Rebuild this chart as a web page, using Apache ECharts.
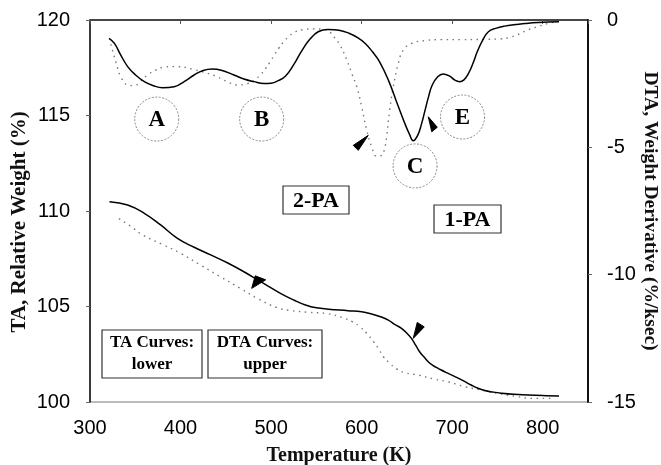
<!DOCTYPE html>
<html><head><meta charset="utf-8">
<script src="https://cdn.jsdelivr.net/npm/echarts@6/dist/echarts.min.js"></script>
<style>html,body{margin:0;padding:0;background:#fff}#c{width:661px;height:465px}</style>
</head><body><div id="c"></div>
<script>
// ---- tick labels ----
const xTickLabels = [300, 400, 500, 600, 700, 800];
const taTickLabels = [100, 105, 110, 115, 120];
const dtaTickLabels = [-15, -10, -5, 0];

// ---- DTA (upper, right axis) solid curve ----
const dtaSolidT = [321,327,334,341.6,350,360,370,380,393,404,415,425,435,445,459,470,481,492,500,508,516,525,534,543,552,563,575,586,596,604,612,620,630,640,647,653,657,662,666,670,674,678,684,690,697,703,708,713,718,723,728,734,740,748,758,770,780,795,818];
const dtaSolidV = [-0.72,-0.92,-1.38,-1.83,-2.15,-2.42,-2.58,-2.66,-2.62,-2.42,-2.16,-1.98,-1.92,-1.97,-2.16,-2.32,-2.42,-2.49,-2.48,-2.38,-2.2,-1.75,-1.2,-0.75,-0.46,-0.37,-0.4,-0.52,-0.7,-0.92,-1.25,-1.65,-2.4,-3.35,-4.0,-4.5,-4.74,-4.52,-4.1,-3.55,-3.0,-2.55,-2.23,-2.12,-2.2,-2.36,-2.42,-2.35,-2.1,-1.7,-1.22,-0.77,-0.46,-0.33,-0.24,-0.18,-0.14,-0.1,-0.07];

// ---- DTA dotted curve ----
const dtaDotT = [323,329,334,341.6,349,356,363.6,373,382,396.6,415,429.6,440.6,451.6,462.6,473.6,482,488,494,499,504,508.5,514,519.5,526,534,547,560,565,569,576,583.6,589,594.6,600,605.6,611,616.6,622,625,627.6,631,635,640.5,646,655,670,688,710,735,754,762,772.5,783.5,794.5,805.5,816.5];
const dtaDotV = [-0.95,-1.7,-2.23,-2.55,-2.58,-2.4,-2.16,-1.96,-1.85,-1.83,-1.95,-2.09,-2.23,-2.42,-2.55,-2.5,-2.35,-2.16,-1.9,-1.64,-1.35,-1.11,-0.85,-0.65,-0.48,-0.39,-0.35,-0.37,-0.48,-0.65,-0.98,-1.57,-2.09,-2.62,-3.4,-4.32,-4.97,-5.35,-5.32,-5.1,-4.58,-3.53,-2.62,-1.7,-1.18,-0.92,-0.81,-0.77,-0.77,-0.76,-0.74,-0.7,-0.57,-0.39,-0.26,-0.14,-0.07];

// ---- TA (lower, left axis) solid curve ----
const taSolidT = [321.5,341.6,360,378,396.6,415,433.3,451.6,470,488.3,510.3,525,538,550,563.4,585,600,611,620,629.5,637,644,650,655,660,664,669,673.5,679,684.5,693,703,712,721,728,736,745,754,768,783.5,800,818];
const taSolidV = [110.49,110.31,109.88,109.27,108.57,108.1,107.7,107.29,106.82,106.3,105.69,105.34,105.08,104.93,104.86,104.78,104.72,104.61,104.48,104.29,104.05,103.86,103.6,103.33,102.95,102.63,102.35,102.11,101.9,101.76,101.55,101.33,101.12,100.89,100.73,100.6,100.52,100.46,100.4,100.37,100.34,100.31];

// ---- TA dotted curve ----
const taDotT = [332,345,358,380,400,422,444,466,484.6,506,520,540,563,580,590,598,605.6,613,618.5,624,631,638.6,647.8,662.5,681,695.5,714,732,750,770,787,813];
const taDotV = [109.6,109.2,108.75,108.25,107.79,107.17,106.56,105.95,105.43,104.95,104.8,104.7,104.62,104.4,104.2,103.94,103.6,103.16,102.81,102.37,102.03,101.73,101.53,101.41,101.19,101.06,100.8,100.63,100.45,100.3,100.19,100.19];

// ---- annotations (data coordinates) ----
const circleNotes = [['A', 373.7, -3.89], ['B', 489.6, -3.89], ['C', 659, -5.73], ['E', 711.4, -3.81]];
const arrowTips = [[607.3, -4.53, 1], [673.6, -3.8, 1], [478.6, 105.95, 0], [657, 103.33, 0]];

const zip = (a, b) => a.map((x, i) => [x, b[i]]);
const serif = '"Liberation Serif","Times New Roman",serif';
const sans = '"Liberation Sans",Arial,sans-serif';

const chart = echarts.init(document.getElementById('c'), null, {renderer: 'canvas'});

const solidStyle = {color: '#000', width: 1.5};
const dotStyle = {color: '#777', width: 1.4, type: [1.5, 4.5]};
const SM = 0.45;

chart.setOption({
  animation: false,
  grid: {left: 90, top: 20, right: 73, bottom: 63, show: true, borderColor: '#777', borderWidth: 1,
    containLabel: false, outerBoundsMode: 'none'},
  xAxis: {
    type: 'value', min: xTickLabels[0], max: 850, interval: 100,
    axisLine: {lineStyle: {color: '#222', width: 1.5}},
    axisTick: {show: true, length: 4, lineStyle: {color: '#555'}},
    splitLine: {show: false},
    axisLabel: {fontFamily: sans, fontSize: 20, color: '#000', margin: 16,
      formatter: v => xTickLabels.includes(v) ? String(v) : ''},
    name: 'Temperature (K)', nameLocation: 'middle', nameGap: 44, nameMoveOverlap: false,
    nameTextStyle: {fontFamily: serif, fontWeight: 'bold', fontSize: 20, color: '#111'}
  },
  yAxis: [
    {
      type: 'value', position: 'left', min: taTickLabels[0], max: taTickLabels[taTickLabels.length - 1], interval: 5,
      axisLine: {show: true, lineStyle: {color: '#111', width: 1.5}},
      axisTick: {show: true, length: 4, lineStyle: {color: '#666'}},
      splitLine: {show: false},
      axisLabel: {fontFamily: sans, fontSize: 20, color: '#000', margin: 20},
      name: 'TA, Relative Weight (%)', nameLocation: 'middle', nameGap: 60, nameRotate: 90, nameMoveOverlap: false,
      nameTextStyle: {fontFamily: serif, fontWeight: 'bold', fontSize: 21, color: '#111', padding: [0, 22, 0, 0]}
    },
    {
      type: 'value', position: 'right', min: dtaTickLabels[0], max: dtaTickLabels[dtaTickLabels.length - 1], interval: 5,
      axisLine: {show: true, lineStyle: {color: '#111', width: 2}},
      axisTick: {show: true, length: 4, lineStyle: {color: '#666'}},
      splitLine: {show: false},
      axisLabel: {fontFamily: sans, fontSize: 20, color: '#000', margin: 19},
      name: 'DTA, Weight Derivative (%/ksec)', nameLocation: 'middle', nameGap: 52, nameRotate: -90, nameMoveOverlap: false,
      nameTextStyle: {fontFamily: serif, fontWeight: 'bold', fontSize: 19.5, color: '#111'}
    }
  ],
  series: [
    {name: 'DTA 1-PA', type: 'line', yAxisIndex: 1, data: zip(dtaSolidT, dtaSolidV), showSymbol: false, smooth: SM, lineStyle: solidStyle, z: 3},
    {name: 'DTA 2-PA', type: 'line', yAxisIndex: 1, data: zip(dtaDotT, dtaDotV), showSymbol: false, smooth: SM, lineStyle: dotStyle, z: 2},
    {name: 'TA 1-PA', type: 'line', yAxisIndex: 0, data: zip(taSolidT, taSolidV), showSymbol: false, smooth: SM, lineStyle: solidStyle, z: 3},
    {name: 'TA 2-PA', type: 'line', yAxisIndex: 0, data: zip(taDotT, taDotV), showSymbol: false, smooth: SM, lineStyle: dotStyle, z: 2}
  ]
});

// ---- graphic annotations ----
const toPx = (x, y, axis) => chart.convertToPixel({xAxisIndex: 0, yAxisIndex: axis}, [x, y]);
const arrowShapes = [
  [[0, 0], [-15, 10], [-10, 15]],
  [[0, 0], [3.5, 15], [9, 10.5]],
  [[0, 0], [3.5, -12.5], [14, -8.5]],
  [[0, 0], [4, -16], [11, -11.5]]
];
const g = [];
circleNotes.forEach(([lab, x, y]) => {
  const [cx, cy] = toPx(x, y, 1);
  g.push({type: 'circle', shape: {cx, cy, r: 22}, style: {fill: 'none', stroke: '#888', lineWidth: 1, lineDash: [2, 1.5]}, z: 10});
  g.push({type: 'text', x: cx, y: cy + 1, style: {text: lab, fontFamily: serif, fontWeight: 'bold', fontSize: 23, fill: '#000', align: 'center', verticalAlign: 'middle'}, z: 11});
});
arrowTips.forEach(([x, y, axis], i) => {
  const [px, py] = toPx(x, y, axis);
  g.push({type: 'polygon', shape: {points: arrowShapes[i].map(([dx, dy]) => [px + dx, py + dy])}, style: {fill: '#000', stroke: '#000', lineWidth: 1}, z: 12});
});
const boxes = [
  {x: 283, y: 186, w: 66, h: 28, lines: ['2-PA'], fs: 22},
  {x: 434, y: 205, w: 67, h: 28, lines: ['1-PA'], fs: 22},
  {x: 102, y: 330, w: 100, h: 48, lines: ['TA Curves:', 'lower'], fs: 17},
  {x: 208, y: 330, w: 114, h: 48, lines: ['DTA Curves:', 'upper'], fs: 17}
];
boxes.forEach(b => {
  g.push({type: 'rect', shape: {x: b.x, y: b.y, width: b.w, height: b.h}, style: {fill: '#fff', stroke: '#333', lineWidth: 1.2}, z: 10});
  if (b.lines.length === 1) {
    g.push({type: 'text', x: b.x + b.w / 2, y: b.y + b.h / 2 + 1, style: {text: b.lines[0], fontFamily: serif, fontWeight: 'bold', fontSize: b.fs, fill: '#000', align: 'center', verticalAlign: 'middle'}, z: 11});
  } else {
    g.push({type: 'text', x: b.x + b.w / 2, y: b.y + 13, style: {text: b.lines[0], fontFamily: serif, fontWeight: 'bold', fontSize: b.fs, fill: '#000', align: 'center', verticalAlign: 'middle'}, z: 11});
    g.push({type: 'text', x: b.x + b.w / 2, y: b.y + 35, style: {text: b.lines[1], fontFamily: serif, fontWeight: 'bold', fontSize: b.fs, fill: '#000', align: 'center', verticalAlign: 'middle'}, z: 11});
  }
});
chart.setOption({graphic: g});
</script>
</body></html>
